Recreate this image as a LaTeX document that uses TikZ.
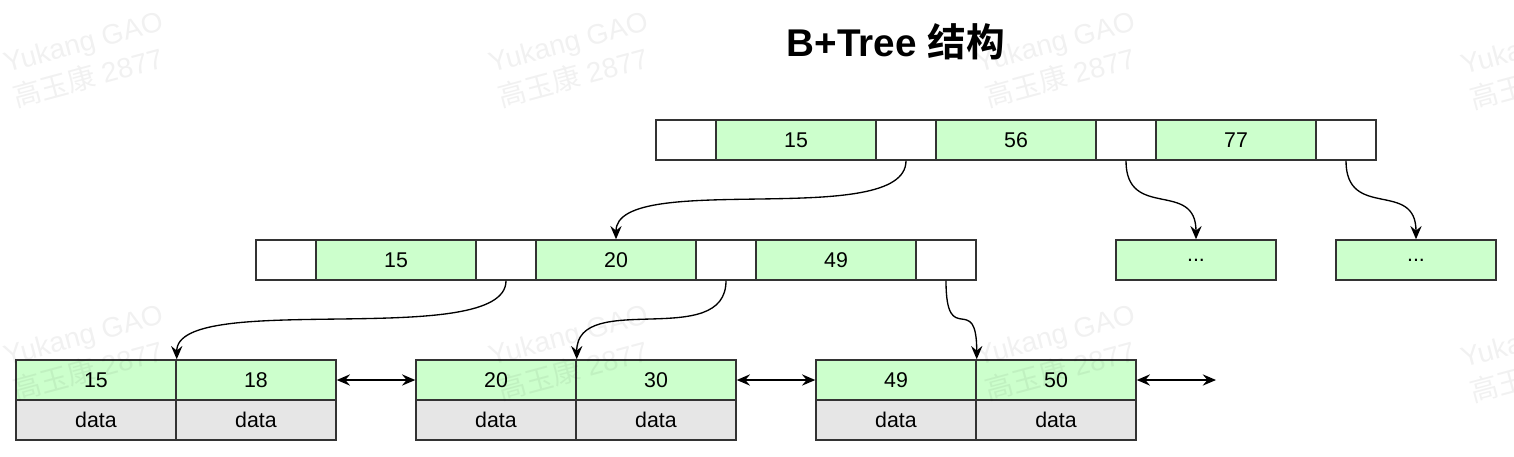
\documentclass[tikz,border=0pt]{standalone}
\usepackage{fontspec}
\setmainfont{Liberation Sans}
\newfontfamily\cjk{Noto Sans CJK SC}[BoldFont={Noto Sans CJK SC Bold}]
\usetikzlibrary{arrows.meta}
\definecolor{gfill}{HTML}{CCFFCC}
\definecolor{dfill}{HTML}{E6E6E6}
\definecolor{bord}{HTML}{333333}
\tikzset{
  cellbase/.style={draw=bord, line width=1.1pt, rectangle, inner sep=0pt, minimum height=30pt, font=\fontsize{16}{18}\selectfont},
  wcell/.style={cellbase, fill=white, minimum width=45pt},
  gcell/.style={cellbase, fill=gfill, minimum width=120pt},
  dcell/.style={cellbase, fill=dfill, minimum width=120pt},
  tip/.style={},
  arr/.style={line width=1pt, -{Stealth[length=10pt,width=8.5pt,inset=3.5pt]}},
  barr/.style={line width=1pt, {Stealth[length=10pt,width=8.5pt,inset=3.5pt]}-{Stealth[length=10pt,width=8.5pt,inset=3.5pt]}},
  wmark/.style={rotate=15, align=left, text=black, text opacity=0.055, font=\fontsize{21}{27}\selectfont},
}
\begin{document}
\begin{tikzpicture}[x=0.75pt,y=-0.75pt]
\useasboundingbox (0,0) rectangle (1514,457);
\fill[white] (0,0) rectangle (1514,457);
% title
\node (title) at (896,42) {\fontsize{29}{33}\selectfont\bfseries B+Tree {\cjk\bfseries 结构}};
% top node
\node[wcell] (t1) at (686,140) {};
\node[gcell] (t2) at (796,140) {15};
\node[wcell] (t3) at (906,140) {};
\node[gcell] (t4) at (1016,140) {56};
\node[wcell] (t5) at (1126,140) {};
\node[gcell] (t6) at (1236,140) {77};
\node[wcell] (t7) at (1346,140) {};
% middle node
\node[wcell] (m1) at (286,260) {};
\node[gcell] (m2) at (396,260) {15};
\node[wcell] (m3) at (506,260) {};
\node[gcell] (m4) at (616,260) {20};
\node[wcell] (m5) at (726,260) {};
\node[gcell] (m6) at (836,260) {49};
\node[wcell] (m7) at (946,260) {};
% other children
\node[gcell] (d1) at (1196,260) {...};
\node[gcell] (d2) at (1416,260) {...};
% leaves
\node[gcell] (l1a) at (96,380) {15};
\node[gcell] (l1b) at (256,380) {18};
\node[dcell] (l1c) at (96,420) {data};
\node[dcell] (l1d) at (256,420) {data};
\node[gcell] (l2a) at (496,380) {20};
\node[gcell] (l2b) at (656,380) {30};
\node[dcell] (l2c) at (496,420) {data};
\node[dcell] (l2d) at (656,420) {data};
\node[gcell] (l3a) at (896,380) {49};
\node[gcell] (l3b) at (1056,380) {50};
\node[dcell] (l3c) at (896,420) {data};
\node[dcell] (l3d) at (1056,420) {data};
\coordinate (lend) at (1216,380);
% connectors
\draw[arr] (t3.south) .. controls +(0,70) and +(0,-70) .. (m4.north);
\draw[arr] (t5.south) .. controls +(0,60) and +(0,-60) .. (d1.north);
\draw[arr] (t7.south) .. controls +(0,60) and +(0,-60) .. (d2.north);
\draw[arr] (m3.south) .. controls +(0,70) and +(0,-70) .. (l1a.north east);
\draw[arr] (m5.south) .. controls +(0,70) and +(0,-70) .. (l2a.north east);
\draw[arr] (m7.south) .. controls +(0,70) and +(0,-70) .. (l3a.north east);
\draw[barr] (l1b.east) -- (l2a.west);
\draw[barr] (l2b.east) -- (l3a.west);
\draw[barr] (l3b.east) -- (lend);
% watermarks
\foreach \i/\x/\y in {1/88/60, 2/573/60, 3/1060/60, 4/1545/62, 5/88/353, 6/573/353, 7/1060/353, 8/1545/355}{
  \node[wmark] (wm\i) at (\x,\y) {Yukang GAO\\{\cjk 高玉康} 2877};
}
\end{tikzpicture}
\end{document}
